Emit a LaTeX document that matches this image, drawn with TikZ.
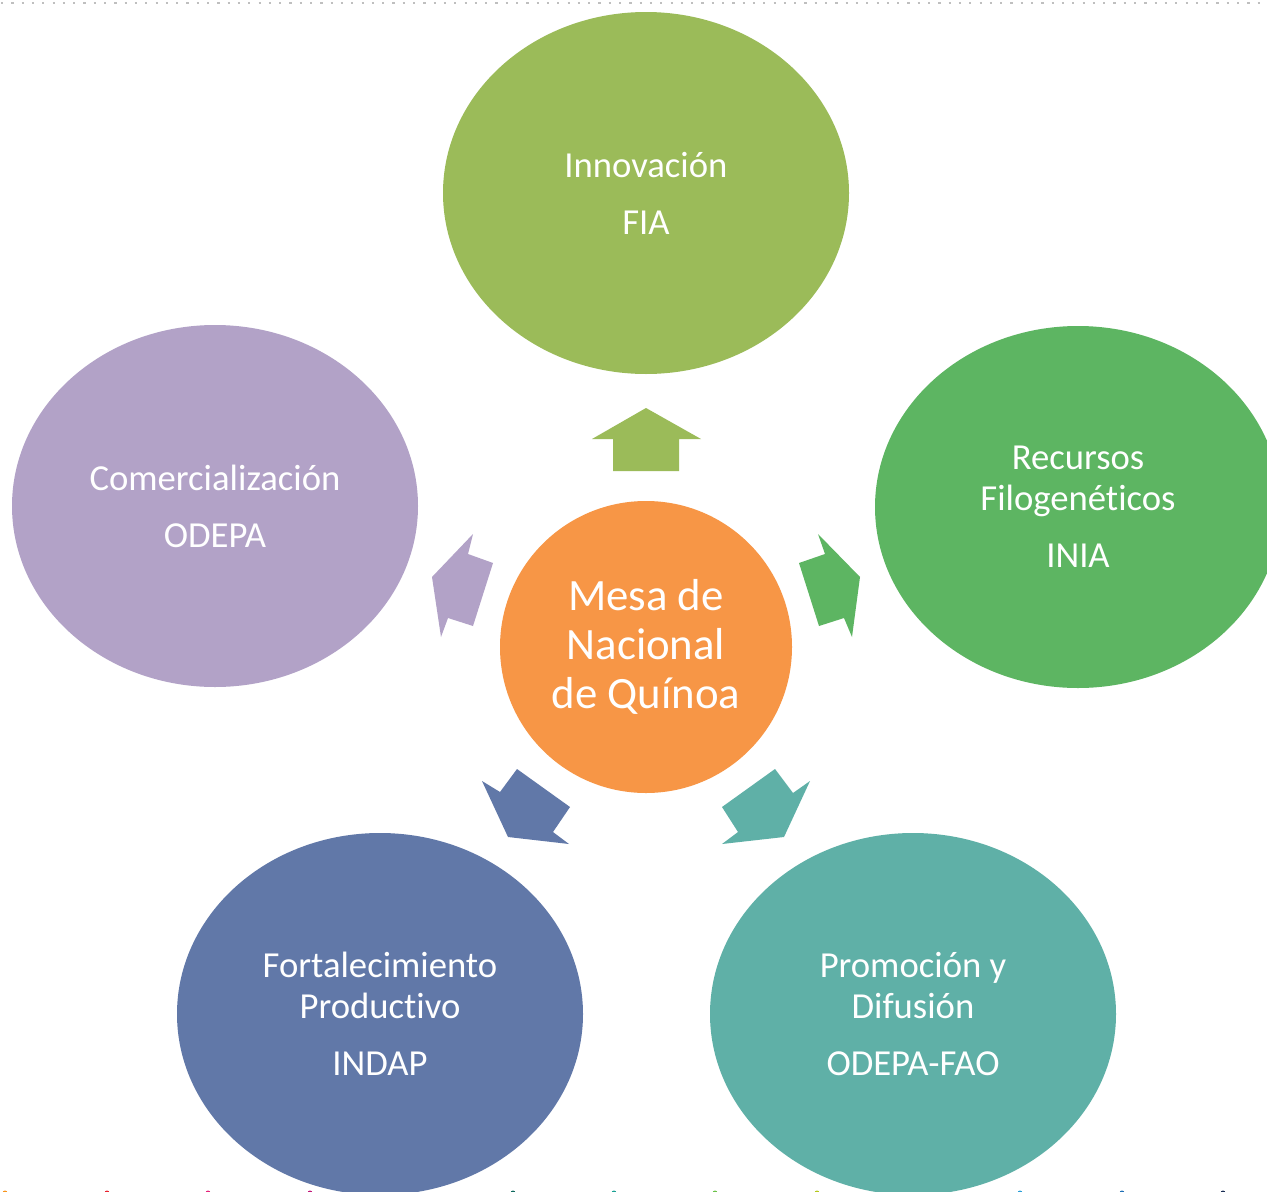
\documentclass[tikz,border=0pt]{standalone}
\usepackage{fontspec}
\setmainfont{Carlito}[Ligatures={NoCommon,NoContextual}]
\usetikzlibrary{shapes.geometric}
\newcommand{\tinolig}{t\kern0pt i}
\definecolor{cGreenA}{HTML}{9BBB59}
\definecolor{cGreenB}{HTML}{5DB562}
\definecolor{cPurple}{HTML}{B2A2C7}
\definecolor{cBlue}{HTML}{6178A8}
\definecolor{cTeal}{HTML}{5FB0A7}
\definecolor{cOrange}{HTML}{F79646}
\definecolor{cDots}{HTML}{BFBFBF}
\tikzset{
  outer/.style={ellipse, fill=#1, draw=none, minimum width=406*0.75pt, minimum height=362*0.75pt,
    inner sep=0pt, text=white, align=center, font=\fontsize{27.5}{30.75}\selectfont},
  hub/.style={circle, fill=cOrange, draw=none, minimum size=292*0.75pt, inner sep=0pt,
    text=white, align=center, font=\fontsize{33.6}{36.75}\selectfont},
  blockarrow/.style={fill=#1, draw=none},
  edgedot/.style={circle, fill=#1, draw=none, minimum size=5*0.75pt, inner sep=0pt}
}
\begin{document}
\begin{tikzpicture}[x=0.75pt,y=-0.75pt]
\clip (0,0) rectangle (1267,1192);
\fill[white] (0,0) rectangle (1267,1192);
% top dotted rule
\coordinate (dl) at (1,3);
\coordinate (dr) at (1267,3);
\draw[cDots, line width=2.2*0.75pt, dash pattern=on 2.2*0.75pt off 8.1*0.75pt] (dl) -- (dr);
% bottom edge coloured dots
\foreach \x/\c in {5/F7941D, 107/E8232F, 208/E5247B, 310/C2187A, 412/8E3B8F, 513/0F6A5E, 614/1AA193, 715/6CC24A, 817/B5C81E, 918/8DC63F, 1020/2A9FD8, 1122/1F6FB6, 1223/1B2F55}{
  \definecolor{dotc}{HTML}{\c}
  \node[edgedot=dotc] (bd\x) at (\x,1193) {};
}
% outer ellipses
\node[outer=cGreenA] (inn) at (646,193) {Innovación\\[12pt]FIA};
\node[outer=cGreenB] (rec) at (1078,507) {Recursos\\Filogené\tinolig cos\\[12pt]INIA};
\node[outer=cPurple] (com) at (215,506) {Comercialización\\[12pt]ODEPA};
\node[outer=cBlue] (fort) at (380,1014) {Fortalecimiento\\Produc\tinolig vo\\[12pt]INDAP};
\node[outer=cTeal] (prom) at (913,1014) {Promoción y\\Difusión\\[12pt]ODEPA-FAO};
% hub
\node[hub] (mesa) at (646,647) {Mesa de\\Nacional\\de Quínoa};
% block arrows
\fill[blockarrow=cGreenA] (646,408) -- (701,439) -- (679,439) -- (679,471) -- (613,471) -- (613,439) -- (592,439) -- cycle;
\fill[blockarrow=cGreenB] (860,577) -- (852,637) -- (844,618) -- (819,626) -- (799,563) -- (825,554) -- (818,534) -- cycle;
\fill[blockarrow=cPurple] (432,577) -- (441,637) -- (448,618) -- (473,626) -- (493,563) -- (468,554) -- (473,534) -- cycle;
\fill[blockarrow=cBlue] (508,837) -- (569,844) -- (553,832) -- (570,807) -- (517,769) -- (500,792) -- (482,781) -- cycle;
\fill[blockarrow=cTeal] (784,837) -- (722,844) -- (738,832) -- (722,807) -- (775,769) -- (793,793) -- (810,781) -- cycle;
\end{tikzpicture}
\end{document}
